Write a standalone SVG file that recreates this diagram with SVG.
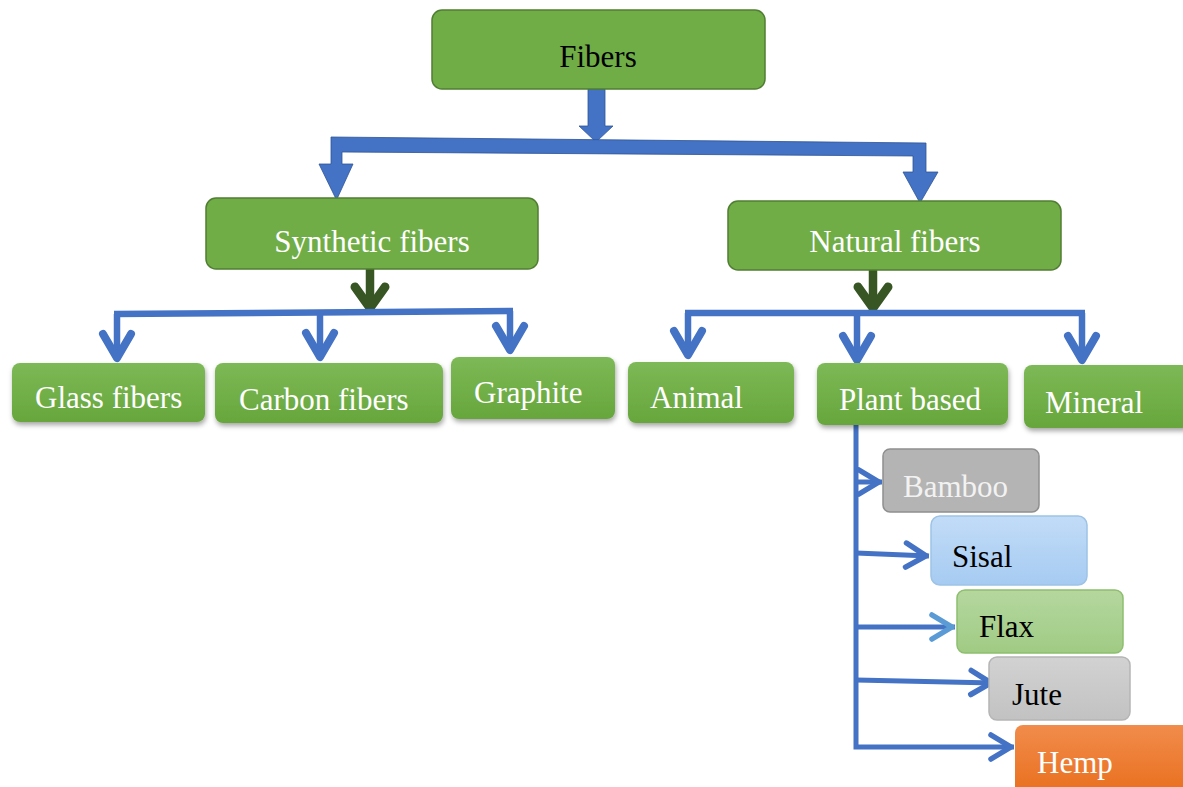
<svg xmlns="http://www.w3.org/2000/svg" width="1183" height="787" viewBox="0 0 1183 787">
<style>
.t{font-family:"Liberation Serif","Times New Roman",serif;font-size:31px}
.w{fill:#ffffff}.k{fill:#000000}
.top{fill:#70AD47;stroke:#507E32;stroke-width:1.5}
.row{fill:url(#gGreen);filter:url(#sh)}
.blue{fill:none;stroke:#4472C4;stroke-width:6.5}
.bthin{fill:none;stroke:#4472C4;stroke-width:5}
.dg{fill:none;stroke:#375623;stroke-width:8.5}
.blk{fill:#4472C4;stroke:#2F5597;stroke-width:0.8}
</style>
<defs>
<linearGradient id="gGreen" x1="0" y1="0" x2="0" y2="1"><stop offset="0" stop-color="#7DB956"/><stop offset="1" stop-color="#67A63C"/></linearGradient>
<linearGradient id="gSisal" x1="0" y1="0" x2="0" y2="1"><stop offset="0" stop-color="#C2DCF7"/><stop offset="1" stop-color="#A6CBF2"/></linearGradient>
<linearGradient id="gFlax" x1="0" y1="0" x2="0" y2="1"><stop offset="0" stop-color="#B5D79F"/><stop offset="1" stop-color="#A0CB84"/></linearGradient>
<linearGradient id="gJute" x1="0" y1="0" x2="0" y2="1"><stop offset="0" stop-color="#D2D2D2"/><stop offset="1" stop-color="#C2C2C2"/></linearGradient>
<linearGradient id="gHemp" x1="0" y1="0" x2="0" y2="1"><stop offset="0" stop-color="#F18C4C"/><stop offset="1" stop-color="#E96F1D"/></linearGradient>
<filter id="sh" x="-10%" y="-10%" width="125%" height="140%"><feDropShadow dx="1" dy="3" stdDeviation="2.5" flood-color="#000" flood-opacity="0.35"/></filter>
<marker id="mBlue" markerUnits="userSpaceOnUse" viewBox="-38 -22 44 44" markerWidth="44" markerHeight="44" refX="-3" refY="0" orient="auto"><path d="M-28,-14 L-4,0 L-28,14" fill="none" stroke="#4472C4" stroke-width="8" stroke-linecap="round" stroke-linejoin="round"/></marker>
<marker id="mGreen" markerUnits="userSpaceOnUse" viewBox="-38 -22 44 44" markerWidth="44" markerHeight="44" refX="-4" refY="0" orient="auto"><path d="M-26,-15 L-5,0 L-26,15" fill="none" stroke="#375623" stroke-width="9" stroke-linecap="round" stroke-linejoin="round"/></marker>
<marker id="mSmall" markerUnits="userSpaceOnUse" viewBox="-30 -16 32 32" markerWidth="32" markerHeight="32" refX="0" refY="0" orient="auto"><path d="M-23,-12 L-3,0 L-23,12" fill="none" stroke="#4472C4" stroke-width="5.5" stroke-linecap="round" stroke-linejoin="round"/></marker>
<marker id="mSmallL" markerUnits="userSpaceOnUse" viewBox="-30 -16 32 32" markerWidth="32" markerHeight="32" refX="0" refY="0" orient="auto"><path d="M-23,-12 L-3,0 L-23,12" fill="none" stroke="#5B9BD5" stroke-width="5.5" stroke-linecap="round" stroke-linejoin="round"/></marker>
</defs>
<rect width="1183" height="787" fill="#ffffff"/>
<g id="connectors">
<path class="blk" d="M588,89 L605,89 L605,126 L613,126 L596,142 L579,126 L588,126 Z"/>
<path class="blk" d="M331,137 L926,143 L926,172 L938,172 L920,203 L903,172 L913,172 L913,156 L342,152 L342,164 L353,164 L336.5,200 L319,164 L331,164 Z"/>
<line class="dg" x1="370" y1="269" x2="370" y2="309" marker-end="url(#mGreen)"/>
<line class="blue" x1="114" y1="314" x2="513" y2="311"/>
<line class="blue" x1="117" y1="314" x2="117" y2="359" marker-end="url(#mBlue)"/>
<line class="blue" x1="320" y1="313" x2="320" y2="358" marker-end="url(#mBlue)"/>
<line class="blue" x1="510" y1="311" x2="510" y2="351" marker-end="url(#mBlue)"/>
<line class="dg" x1="873" y1="270" x2="873" y2="309" marker-end="url(#mGreen)"/>
<line class="blue" x1="685" y1="313" x2="1085" y2="313"/>
<line class="blue" x1="688" y1="313" x2="688" y2="356" marker-end="url(#mBlue)"/>
<line class="blue" x1="857" y1="313" x2="857" y2="361" marker-end="url(#mBlue)"/>
<line class="blue" x1="1082" y1="313" x2="1082" y2="361" marker-end="url(#mBlue)"/>
<path class="bthin" d="M856,425 V747 H1014" marker-end="url(#mSmall)"/>
<line class="bthin" x1="856" y1="482" x2="882" y2="482" marker-end="url(#mSmall)"/>
<line class="bthin" x1="856" y1="553" x2="929" y2="556" marker-end="url(#mSmall)"/>
<line class="bthin" x1="856" y1="627" x2="955" y2="627" stroke="#5B9BD5" marker-end="url(#mSmallL)"/>
<line class="bthin" x1="856" y1="680" x2="994" y2="683" marker-end="url(#mSmall)"/>
</g>
<g id="fibers"><rect class="top" x="432" y="10" width="333" height="79" rx="10"/><text class="t k" x="598" y="67" text-anchor="middle" font-size="32">Fibers</text></g>
<g id="synthetic"><rect class="top" x="206" y="198" width="332" height="71" rx="10"/><text class="t w" x="372" y="252" text-anchor="middle">Synthetic fibers</text></g>
<g id="natural"><rect class="top" x="728" y="201" width="333" height="69" rx="10"/><text class="t w" x="895" y="252" text-anchor="middle">Natural fibers</text></g>
<g id="glass"><rect class="row" x="12" y="363" width="193" height="59" rx="8"/><text class="t w" x="35" y="408">Glass fibers</text></g>
<g id="carbon"><rect class="row" x="215" y="363" width="228" height="60" rx="8"/><text class="t w" x="239" y="410">Carbon fibers</text></g>
<g id="graphite"><rect class="row" x="451" y="357" width="164" height="62" rx="8"/><text class="t w" x="474" y="403">Graphite</text></g>
<g id="animal"><rect class="row" x="628" y="362" width="166" height="61" rx="8"/><text class="t w" x="650" y="408">Animal</text></g>
<g id="plant"><rect class="row" x="817" y="363" width="191" height="62" rx="8"/><text class="t w" x="839" y="410">Plant based</text></g>
<g id="mineral"><rect class="row" x="1024" y="365" width="166" height="63" rx="8"/><text class="t w" x="1045" y="413">Mineral</text></g>
<g id="bamboo"><rect x="883" y="449" width="156" height="63" rx="7" fill="#B4B4B4" stroke="#8F8F8F" stroke-width="1.5"/><text class="t" x="903" y="497" font-size="30" fill="#F2F2F2">Bamboo</text></g>
<g id="sisal"><rect x="931" y="516" width="156" height="69" rx="9" fill="url(#gSisal)" stroke="#9DC3E6" stroke-width="1.5"/><text class="t k" x="952" y="567" font-size="30">Sisal</text></g>
<g id="flax"><rect x="957" y="590" width="166" height="63" rx="8" fill="url(#gFlax)" stroke="#8DBF6E" stroke-width="1.5"/><text class="t k" x="979" y="637">Flax</text></g>
<g id="jute"><rect x="989" y="657" width="141" height="63" rx="8" fill="url(#gJute)" stroke="#B5B5B5" stroke-width="1.5"/><text class="t k" x="1012" y="705">Jute</text></g>
<g id="hemp"><rect x="1015" y="725" width="175" height="70" rx="8" fill="url(#gHemp)"/><text class="t w" x="1037" y="773">Hemp</text></g>
</svg>
